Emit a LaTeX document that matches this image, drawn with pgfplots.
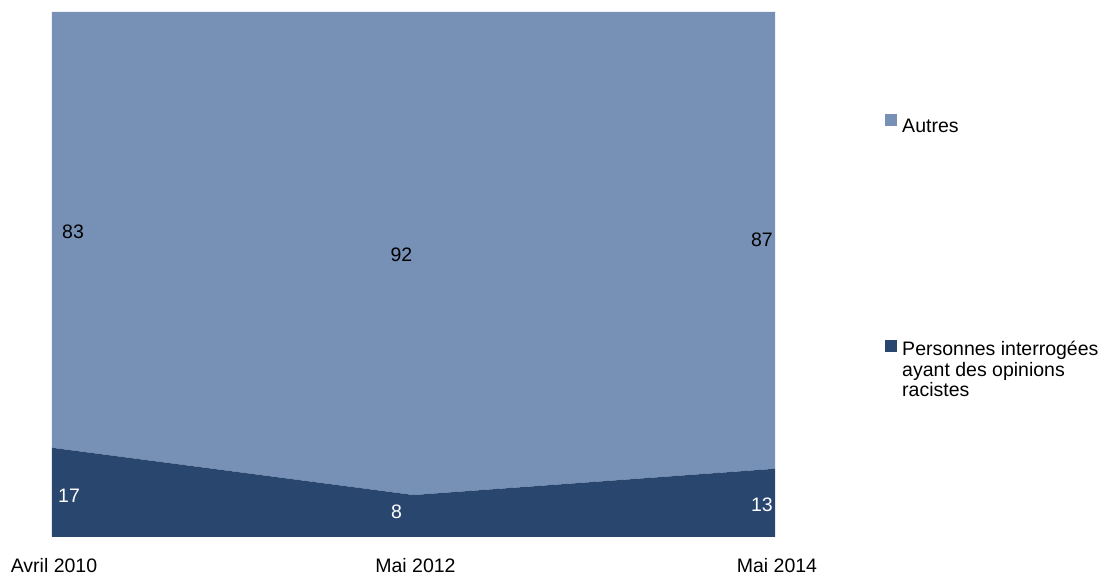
\documentclass[border=0pt]{standalone}
\usepackage{pgfplots}
\pgfplotsset{compat=1.18}
\usepackage{fontspec}
\setmainfont{Liberation Sans}
\definecolor{lightA}{RGB}{119,144,181}
\definecolor{darkA}{RGB}{41,70,111}
\pgfplotsset{
  darklegend/.style={legend image code/.code={\fill[darkA] (0pt,18pt) rectangle (12pt,30pt);}},
  lightlegend/.style={legend image code/.code={\fill[lightA] (0pt,1pt) rectangle (12pt,13pt);}},
}
\begin{document}
\fontsize{19.5}{20.5}\selectfont
\begin{tikzpicture}[lbl/.style={inner sep=0pt, font=\fontsize{19.5}{20.5}\selectfont}]
\begin{axis}[
  at={(0pt,0pt)}, anchor=origin,
  scale only axis, width=723pt, height=525pt,
  xmin=0, xmax=2, ymin=0, ymax=100,
  stack plots=y,
  axis line style={draw=none},
  ytick=\empty,
  xtick={0,1,2},
  xticklabels={Avril 2010, Mai 2012, Mai 2014},
  major tick length=0pt,
  xticklabel style={anchor=center, yshift=-29pt, xshift=2pt, font=\fontsize{19.5}{20.5}\selectfont},
  /pgf/number format/assume math mode=true,
  legend cell align=left,
  legend style={draw=none, fill=none, at={(1.1522,0.8057)}, anchor=north west,
    inner sep=0pt, row sep=205pt, column sep=5pt,
    nodes={inner sep=0pt, align=left, font=\fontsize{19.5}{20.5}\selectfont}},
  reverse legend,
]
\addplot[fill=darkA, draw=none, darklegend]
  coordinates {(0,17) (1,8) (2,13)} \closedcycle;
\addlegendentry{Personnes interrogées\\ayant des opinions\\racistes}
\addplot[fill=lightA, draw=none, lightlegend] coordinates {(0,83) (1,92) (2,87)} \closedcycle;
\addlegendentry{Autres}
\coordinate (a1) at (axis cs:0,7.8);
\coordinate (a2) at (axis cs:1,4.76);
\coordinate (a3) at (axis cs:2,6.1);
\coordinate (b1) at (axis cs:0,58.1);
\coordinate (b2) at (axis cs:1,53.7);
\coordinate (b3) at (axis cs:2,56.6);
\end{axis}
\node[lbl, anchor=west, text=white, xshift=6pt] at (a1) {17};
\node[lbl, text=white, xshift=-17pt] at (a2) {8};
\node[lbl, anchor=east, text=white, xshift=-2pt] at (a3) {13};
\node[lbl, anchor=west, text=black, xshift=10pt] at (b1) {83};
\node[lbl, text=black, xshift=-12pt] at (b2) {92};
\node[lbl, anchor=east, text=black, xshift=-2pt] at (b3) {87};
\pgfresetboundingbox
\path[use as bounding box] (-52pt,-38pt) rectangle (1052pt,537pt);
\end{tikzpicture}
\end{document}
